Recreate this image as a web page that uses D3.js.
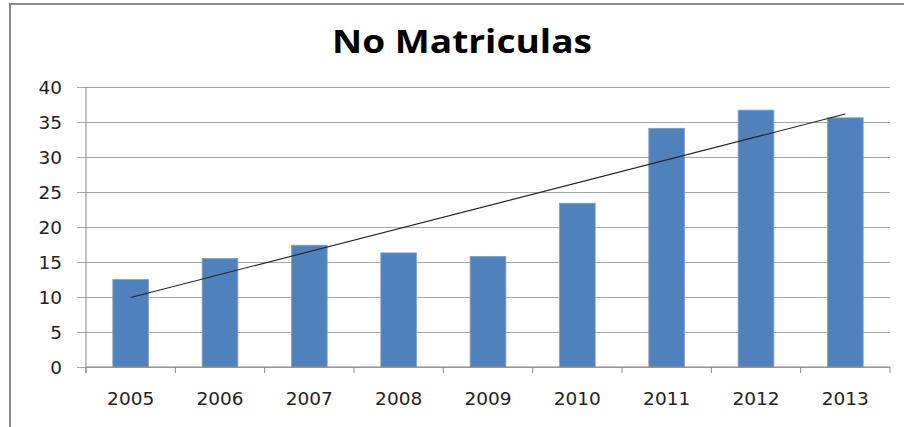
<!DOCTYPE html>
<html>
<head>
<meta charset="utf-8">
<script src="https://cdn.jsdelivr.net/npm/d3@7"></script>
<style>
  html, body { margin: 0; padding: 0; background: #fff; }
  svg { display: block; }
  .tick text { font-family: "DejaVu Sans", sans-serif; font-size: 18.5px; fill: #222; }
</style>
</head>
<body>
<svg width="904" height="427"></svg>
<script>
const svg = d3.select('svg');

const years = ['2005', '2006', '2007', '2008', '2009', '2010', '2011', '2012', '2013'];
const matriculas = [12.5, 15.5, 17.4, 16.3, 15.8, 23.4, 34.1, 36.7, 35.6];
const yTicks = [0, 5, 10, 15, 20, 25, 30, 35, 40];

const data = years.map((y, i) => ({ year: y, value: matriculas[i] }));

const margin = { top: 87, right: 14, bottom: 60, left: 86 };
const width = 904, height = 427;
const innerWidth = width - margin.left - margin.right;
const innerHeight = height - margin.top - margin.bottom;

// frame of the chart object
svg.append('line')
  .attr('x1', 10).attr('x2', 10).attr('y1', 3).attr('y2', height)
  .attr('stroke', '#8a8a8a').attr('stroke-width', 2);
svg.append('line')
  .attr('x1', 10).attr('x2', width).attr('y1', 4).attr('y2', 4)
  .attr('stroke', '#8a8a8a').attr('stroke-width', 2);

svg.append('text')
  .attr('x', 462)
  .attr('y', 53)
  .attr('text-anchor', 'middle')
  .attr('textLength', 260)
  .attr('lengthAdjust', 'spacingAndGlyphs')
  .style('font-family', '"Open Sans", sans-serif')
  .style('font-weight', 'bold')
  .style('font-size', '33px')
  .attr('fill', '#000')
  .text('No Matriculas');

const g = svg.append('g')
  .attr('transform', `translate(${margin.left},${margin.top})`);

const xScale = d3.scaleBand()
  .domain(years)
  .range([0, innerWidth]);

const yScale = d3.scaleLinear()
  .domain([0, 40])
  .range([innerHeight, 0]);

// y axis with gridlines
const yAxis = d3.axisLeft(yScale)
  .tickValues(yTicks)
  .tickSize(-innerWidth)
  .tickPadding(24);

const yAxisG = g.append('g').call(yAxis);
yAxisG.select('.domain').remove();
yAxisG.selectAll('.tick line')
  .attr('x1', -9)
  .attr('stroke', '#a6a6a6')
  .attr('stroke-width', 1.2);
yAxisG.selectAll('.tick text').attr('dy', '0.36em');

// bars
const barWidth = xScale.bandwidth() * 0.4;
g.selectAll('rect.bar').data(data)
  .enter().append('rect')
    .attr('class', 'bar')
    .attr('x', d => xScale(d.year) + (xScale.bandwidth() - barWidth) / 2)
    .attr('y', d => yScale(d.value))
    .attr('width', barWidth)
    .attr('height', d => innerHeight - yScale(d.value))
    .attr('fill', '#4f81bd')
    .attr('stroke', '#7ea3d2')
    .attr('stroke-width', 0.8);

// x axis: ticks at category boundaries
const xAxisG = g.append('g')
  .attr('transform', `translate(0,${innerHeight})`);
xAxisG.append('line')
  .attr('x1', 0).attr('x2', innerWidth)
  .attr('stroke', '#868686');
xAxisG.selectAll('line.bound').data(d3.range(years.length + 1))
  .enter().append('line')
    .attr('class', 'bound')
    .attr('x1', i => i * xScale.step())
    .attr('x2', i => i * xScale.step())
    .attr('y1', 0).attr('y2', 6)
    .attr('stroke', '#868686');
const xAxis = d3.axisBottom(xScale).tickSize(0).tickPadding(25);
const xLabels = g.append('g')
  .attr('transform', `translate(0,${innerHeight})`)
  .call(xAxis);
xLabels.select('.domain').remove();

// y axis line
g.append('line')
  .attr('x1', 0).attr('x2', 0)
  .attr('y1', 0).attr('y2', innerHeight + 6)
  .attr('stroke', '#868686');

// linear trend line (least squares over the bar values)
const idx = d3.range(matriculas.length);
const mx = d3.mean(idx), my = d3.mean(matriculas);
const slope = d3.sum(idx, i => (i - mx) * (matriculas[i] - my)) /
              d3.sum(idx, i => (i - mx) * (i - mx));
const intercept = my - slope * mx;
const trend = [0, years.length - 1].map(i => ({ year: years[i], value: intercept + slope * i }));

g.append('path')
  .datum(trend)
  .attr('fill', 'none')
  .attr('stroke', '#222')
  .attr('stroke-width', 1.1)
  .attr('d', d3.line()
    .x(d => xScale(d.year) + xScale.bandwidth() / 2)
    .y(d => yScale(d.value)));
</script>
</body>
</html>
